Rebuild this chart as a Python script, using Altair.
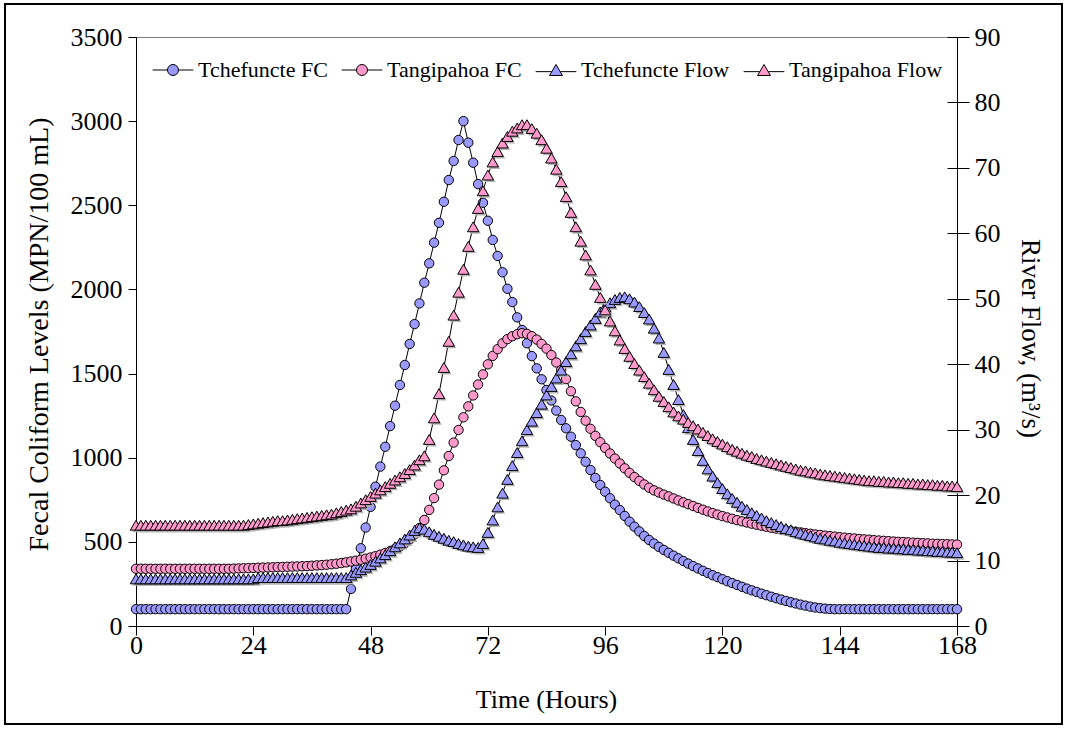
import altair as alt
import pandas as pd

# ---- hourly series (0..168 h) ----
HOURS = list(range(0, 169))

TCHEF_FC = (
    [100] * 44
    + [220, 340, 462, 585, 708, 828, 947, 1065, 1188, 1309, 1432, 1551, 1676, 1794,
       1917, 2040, 2155, 2278, 2396, 2521, 2650, 2763, 2888, 3000, 2872, 2753, 2626,
       2515, 2408, 2294, 2199, 2102, 2004, 1925, 1834, 1759, 1680, 1604, 1531, 1466,
       1402, 1340, 1280, 1224, 1175, 1125, 1075, 1026, 976, 927, 880, 838, 798, 759,
       721, 689, 654, 620, 590, 562, 535, 511, 490, 470, 452, 435, 418, 402, 386, 371,
       356, 342, 328, 315, 302, 290, 278, 266, 255, 244, 233, 222, 212, 202, 192, 183,
       174, 165, 157, 149, 141, 134, 127, 121, 115, 110, 106, 103, 101]
    + [100] * 26
)

TANG_FC = (
    [340] * 20
    + [341, 342, 343, 344, 345, 346, 347, 348, 349, 350, 351, 352, 353, 354, 355, 356,
       358, 360, 362, 364]
    + [367, 370, 374, 378, 383, 388, 394, 400, 407, 415, 424, 434, 445, 458, 473, 492,
       515, 545, 582]
    + [630, 690, 760, 840, 925, 1010, 1090, 1165, 1240, 1305, 1370, 1435, 1495, 1555,
       1605, 1645, 1680, 1705, 1722, 1734, 1740, 1736, 1722, 1702, 1676]
    + [1648, 1610, 1566, 1520, 1467, 1395, 1335, 1272, 1220, 1172, 1130, 1092, 1058,
       1025, 995, 966, 937, 910, 885, 862, 841, 822, 806, 793, 781]
    + [770, 758, 746, 735, 724, 713, 702, 691, 681, 671, 662, 653, 645, 637, 629, 622,
       615, 608, 602, 596, 590, 584, 579, 574, 569, 564, 560, 556, 552, 548, 544, 541,
       537, 534, 531, 528, 525, 522, 520, 517, 515, 513, 510, 508, 506, 504, 502, 500,
       499, 497, 495, 494, 492, 491, 489, 488, 487, 486, 485, 484]
)

TCHEF_FLOW = (
    [7.2] * 25
    + [7.4] * 19
    + [7.8, 8.2, 8.6, 9.0, 9.4, 9.9, 10.4, 10.9, 11.5, 12.1, 12.7, 13.3, 13.9, 14.6,
       15.0, 14.8, 14.4, 14.0, 13.7, 13.4, 13.1, 12.9, 12.6, 12.4, 12.2, 12.1, 12.0]
    + [12.6, 14.3, 16.2, 18.2, 20.3, 22.4, 24.5, 26.5, 28.3, 30.0, 31.3, 32.6, 33.9,
       35.3, 36.6, 37.9, 39.1, 40.4, 41.6, 42.8, 43.9, 45.0, 46.0, 47.0, 48.0, 48.8,
       49.4, 49.9, 50.2, 50.3]
    + [50.0, 49.5, 48.8, 47.9, 46.9, 45.5, 44.0, 41.8, 39.2, 36.9, 34.6, 32.3, 30.3,
       28.5, 26.8, 25.3, 24.0]
    + [22.9, 21.9, 21.0, 20.2, 19.5, 18.9, 18.3, 17.8, 17.3, 16.9, 16.5, 16.1, 15.8,
       15.5, 15.2, 14.9, 14.7, 14.4, 14.2, 14.0, 13.8, 13.6, 13.4, 13.3, 13.1, 13.0,
       12.8, 12.7, 12.6, 12.5, 12.4, 12.3, 12.2, 12.1, 12.0, 12.0, 11.9, 11.9, 11.8,
       11.8, 11.7, 11.7, 11.6, 11.6, 11.5, 11.5, 11.4, 11.4, 11.3, 11.3, 11.2]
)

TANG_FLOW = (
    [15.4] * 23
    + [15.5, 15.6, 15.7, 15.8, 15.9, 16.0, 16.1, 16.1, 16.2, 16.3, 16.4, 16.5, 16.6,
       16.7, 16.8, 16.9, 17.0, 17.1, 17.3, 17.5, 17.7]
    + [17.9, 18.3, 18.8, 19.3, 19.8, 20.3, 20.8, 21.3, 21.8, 22.3, 22.8, 23.3, 23.9,
       24.6, 25.4, 26.0]
    + [28.5, 31.8, 35.5, 39.5, 43.5, 47.5, 51.0, 54.5, 58.0, 61.0, 63.8, 66.5, 68.9,
       70.9, 72.5, 73.8, 74.8, 75.6, 76.1, 76.6, 76.6, 76.0, 75.3, 74.3, 73.0, 71.5,
       69.8, 67.9, 65.6, 63.2, 61.0, 58.8, 56.7, 54.4, 52.2, 50.2, 48.3, 46.6, 45.1,
       43.7, 42.4, 41.2, 40.1, 39.1, 38.1, 37.1, 36.1, 35.1, 34.3, 33.5, 32.7, 32.1,
       31.6, 31.1, 30.6, 30.1, 29.6, 29.1, 28.6, 28.2, 27.8, 27.4, 27.0, 26.7, 26.4,
       26.1, 25.9, 25.6, 25.4, 25.2, 25.0, 24.8, 24.6, 24.4, 24.2, 24.0, 23.8, 23.7,
       23.5, 23.4, 23.2, 23.1, 23.0, 22.9, 22.8, 22.7, 22.6, 22.5, 22.4, 22.3, 22.2,
       22.2, 22.1, 22.1, 22.0, 22.0, 21.9, 21.9, 21.8, 21.8, 21.7, 21.7, 21.6, 21.6,
       21.5, 21.5, 21.4, 21.4, 21.3]
)

for arr in (TCHEF_FC, TANG_FC, TCHEF_FLOW, TANG_FLOW):
    assert len(arr) == len(HOURS), len(arr)

SERIES = ["Tchefuncte FC", "Tangipahoa FC", "Tchefuncte Flow", "Tangipahoa Flow"]
FILLS = ["#9999FF", "#FF99CC", "#9999FF", "#FF99CC"]

X_TICKS = [0, 24, 48, 72, 96, 120, 144, 168]
FC_TICKS = [0, 500, 1000, 1500, 2000, 2500, 3000, 3500]
FLOW_TICKS = [0, 10, 20, 30, 40, 50, 60, 70, 80, 90]

FONT = "Liberation Serif"

# legend keys: marker with a short connecting line through it
CIRCLE_KEY = "M-3.7,0H-1M1,0H3.7M-1,0A1,1,0,1,0,1,0A1,1,0,1,0,-1,0Z"
TRI_KEY = "M-3.7,0.3H-0.77M0.77,0.3H3.7M0,-1L1.18,1L-1.18,1Z"


def frame(name, values):
    return pd.DataFrame({"hour": HOURS, "value": values, "series": name})


fill_scale = alt.Scale(domain=SERIES, range=FILLS)

X = alt.X(
    "hour:Q",
    scale=alt.Scale(domain=[0, 168], nice=False, zero=False),
    axis=alt.Axis(values=X_TICKS, title="Time (Hours)", tickSize=9, labelPadding=-3,
                  labelFlush=False,
                  titleX=410, titleY=73, titleBaseline="middle", titleAlign="center"),
)

Y_FC = alt.Y(
    "value:Q",
    scale=alt.Scale(domain=[0, 3500], nice=False),
    axis=alt.Axis(orient="left", values=FC_TICKS, format="d", tickSize=8, labelPadding=6,
                  labelFlush=False,
                  title="Fecal Coliform Levels (MPN/100 mL)", titleAngle=270, titleFontSize=28,
                  titleX=-97, titleY=297, titleBaseline="middle", titleAlign="center"),
)

Y_FLOW = alt.Y(
    "value:Q",
    scale=alt.Scale(domain=[0, 90], nice=False),
    axis=alt.Axis(orient="right", values=FLOW_TICKS, format="d", tickSize=12, labelPadding=5,
                  labelFlush=False,
                  title="River Flow, (m³/s)", titleAngle=90, titleFontSize=27,
                  titleX=72, titleY=301, titleBaseline="middle", titleAlign="center"),
)


def series_layers(name, values, shape, size, y, shadow=False):
    base = alt.Chart(frame(name, values)).encode(x=X, y=y)
    layers = [base.mark_line(color="black", strokeWidth=1)]
    if shadow:
        layers.append(base.mark_point(shape=shape, filled=True, size=size, opacity=1,
                                      color="#b4b4b4", xOffset=2, yOffset=2))
    layers.append(
        base.mark_point(shape=shape, filled=True, size=size, opacity=1,
                        stroke="black", strokeWidth=1).encode(
            fill=alt.Fill("series:N", scale=fill_scale, legend=None)
        )
    )
    return layers


legend_spec = alt.Legend(
    title=None, orient="none", legendX=26, legendY=22, direction="horizontal",
    labelFont=FONT, labelFontSize=22, labelColor="black", labelOffset=14,
    columnPadding=11, padding=0, symbolSize=121, symbolStrokeWidth=1, symbolOpacity=1,
)

# off-canvas marks whose only job is to carry the legend
legend_layer = alt.Chart(pd.DataFrame({"series": SERIES})).mark_point(
    filled=True, opacity=1, strokeWidth=1, clip=True
).encode(
    x=alt.value(-500),
    y=alt.value(-500),
    fill=alt.Fill("series:N", scale=fill_scale, legend=legend_spec),
    stroke=alt.Stroke("series:N", scale=alt.Scale(domain=SERIES, range=["black"] * 4),
                      legend=legend_spec),
    shape=alt.Shape("series:N",
                    scale=alt.Scale(domain=SERIES, range=[CIRCLE_KEY, CIRCLE_KEY, TRI_KEY, TRI_KEY]),
                    legend=legend_spec),
)

# outer frame around the whole figure
frame_rect = alt.Chart(pd.DataFrame({"k": [0]})).mark_rect(
    fillOpacity=0, stroke="black", strokeWidth=2
).encode(
    x=alt.value(-131), x2=alt.value(926), y=alt.value(-33), y2=alt.value(687)
)

fc_group = alt.layer(
    frame_rect,
    legend_layer,
    *series_layers("Tchefuncte FC", TCHEF_FC, "circle", 88, Y_FC),
    *series_layers("Tangipahoa FC", TANG_FC, "circle", 88, Y_FC),
)

flow_group = alt.layer(
    *series_layers("Tchefuncte Flow", TCHEF_FLOW, "triangle-up", 130, Y_FLOW, shadow=True),
    *series_layers("Tangipahoa Flow", TANG_FLOW, "triangle-up", 130, Y_FLOW, shadow=True),
)

# inner half of the crossing ticks on the right-hand axis
inner_ticks = alt.Chart(frame("Tchefuncte Flow", TCHEF_FLOW)).mark_line(opacity=0).encode(
    x=X,
    y=alt.Y("value:Q", scale=alt.Scale(domain=[0, 90], nice=False),
            axis=alt.Axis(orient="right", values=FLOW_TICKS, offset=-10, tickSize=10,
                          labels=False, domain=False, title=None)),
)

chart = (
    alt.layer(fc_group, flow_group, inner_ticks)
    .resolve_scale(y="independent")
    .properties(
        width=821, height=589,
        autosize=alt.AutoSizeParams(type="none"),
        padding={"left": 136, "top": 37, "right": 109, "bottom": 104},
        background="white",
    )
    .configure_axis(
        labelFont=FONT, labelFontSize=26, labelColor="black",
        titleFont=FONT, titleFontSize=26, titleFontWeight="normal", titleColor="black",
        domainColor="black", tickColor="black", domainWidth=1, tickWidth=1, grid=False,
    )
    .configure_view(stroke="#808080", strokeWidth=1)
)

chart.save("out.html", embed_options={"renderer": "svg", "actions": False})
